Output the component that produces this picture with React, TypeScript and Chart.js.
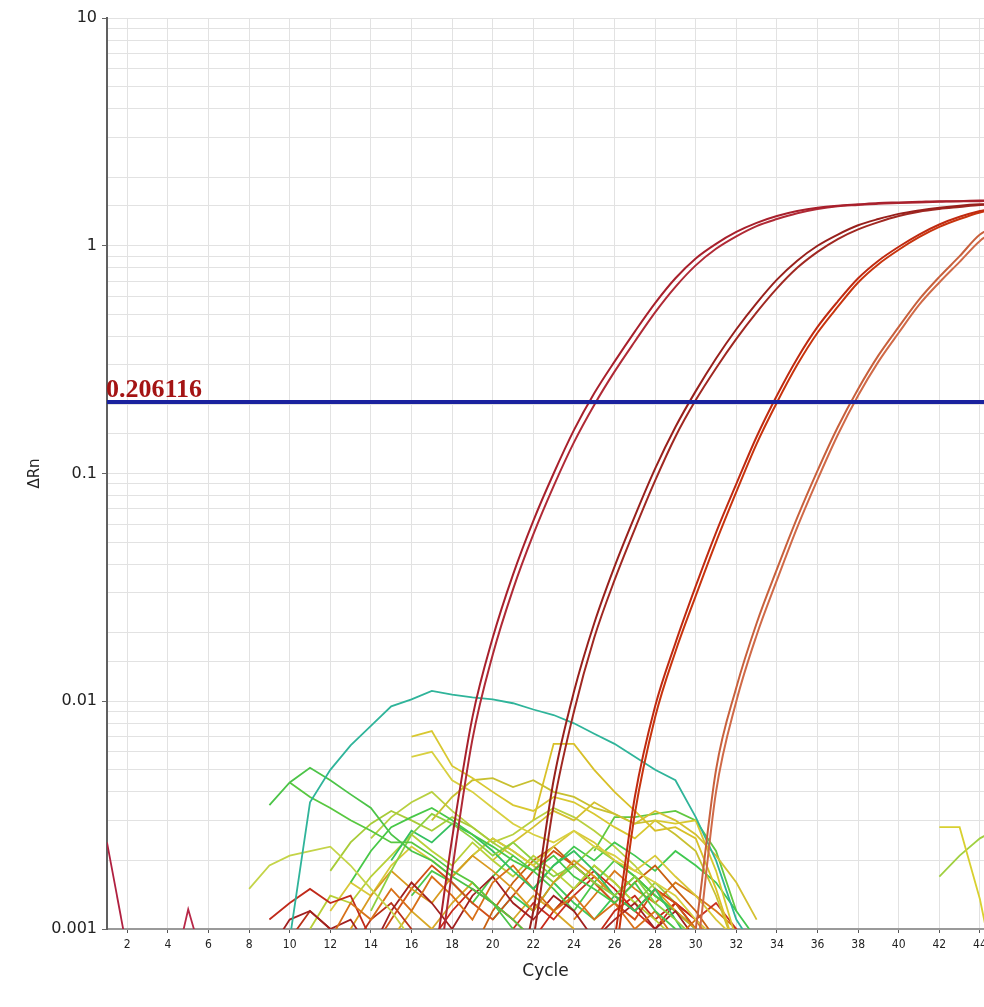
import React, { useEffect, useRef } from "react";
import { Chart, registerables } from "chart.js";

Chart.register(...registerables);

// ---------- axis ranges & labels ----------
const CYCLE_MIN = 1;
const CYCLE_MAX = 44.2;
const Y_MIN = 0.001;
const Y_MAX = 10;
const xTickValues = [2, 4, 6, 8, 10, 12, 14, 16, 18, 20, 22, 24, 26, 28, 30, 32, 34, 36, 38, 40, 42, 44];
const yTickLabels = ["0.001", "0.01", "0.1", "1", "10"];
const X_TITLE = "Cycle";
const Y_TITLE = "ΔRn";

// ---------- threshold ----------
const THRESHOLD = 0.206116;
const THRESHOLD_LABEL = "0.206116";

// ---------- amplification curves (value per cycle, from the start cycle) ----------
const ampStarts = [16, 16, 20, 20, 25, 25, 29, 29];
const amp1A = [0.0002, 0.0006, 0.0025, 0.0085, 0.019, 0.036, 0.062, 0.1, 0.155, 0.225, 0.31, 0.42, 0.56, 0.72, 0.88, 1.02, 1.15, 1.26, 1.35, 1.42, 1.47, 1.5, 1.52, 1.54, 1.55, 1.56, 1.57, 1.57, 1.58, 1.58];
const amp1B = [0.0001, 0.0004, 0.0018, 0.0068, 0.016, 0.031, 0.054, 0.088, 0.137, 0.2, 0.28, 0.38, 0.51, 0.66, 0.82, 0.97, 1.1, 1.22, 1.31, 1.39, 1.45, 1.49, 1.51, 1.53, 1.54, 1.55, 1.56, 1.57, 1.57, 1.58];
const amp2A = [0.0002, 0.0005, 0.0012, 0.0045, 0.011, 0.022, 0.039, 0.065, 0.105, 0.16, 0.23, 0.32, 0.43, 0.56, 0.71, 0.86, 1.0, 1.12, 1.23, 1.31, 1.38, 1.43, 1.47, 1.5, 1.52, 1.53];
const amp2B = [0.0001, 0.0003, 0.0009, 0.0035, 0.009, 0.019, 0.034, 0.057, 0.093, 0.145, 0.21, 0.29, 0.39, 0.51, 0.65, 0.8, 0.94, 1.07, 1.18, 1.27, 1.35, 1.41, 1.45, 1.48, 1.51, 1.52];
const amp3A = [0.0003, 0.0009, 0.0038, 0.0095, 0.018, 0.032, 0.055, 0.09, 0.145, 0.22, 0.32, 0.44, 0.57, 0.72, 0.86, 0.99, 1.12, 1.24, 1.34, 1.42, 1.48];
const amp3B = [0.0002, 0.0007, 0.0032, 0.0085, 0.0165, 0.029, 0.05, 0.083, 0.135, 0.205, 0.3, 0.415, 0.54, 0.69, 0.83, 0.96, 1.09, 1.21, 1.31, 1.4, 1.46];
const amp4A = [0.0003, 0.001, 0.005, 0.0115, 0.022, 0.038, 0.064, 0.103, 0.16, 0.235, 0.33, 0.44, 0.58, 0.73, 0.9, 1.12, 1.24];
const amp4B = [0.0002, 0.0007, 0.004, 0.01, 0.0195, 0.034, 0.058, 0.094, 0.148, 0.22, 0.31, 0.415, 0.55, 0.69, 0.85, 1.05, 1.2];
const ampSeries = [amp1A, amp1B, amp2A, amp2B, amp3A, amp3B, amp4A, amp4B];
const ampColors = ["#a8202c", "#b02a36", "#98201c", "#a02822", "#c02a10", "#c8340e", "#c8603c", "#d06a48"];

// ---------- background (negative) wells ----------
const noiseStarts = [10, 9, 10, 8, 16, 16, 22, 17, 13, 14, 15, 12, 9, 9, 13, 12, 14, 16, 11, 17, 19, 18, 20, 22, 21, 24, 12, 1, 4, 42, 42, 25, 14, 10, 20, 15, 25, 23];
const noiseValues: (number | null)[][] = [
  [0.0009, 0.0036, 0.005, 0.0064, 0.0078, 0.0095, 0.0102, 0.0111, 0.0107, 0.0104, 0.0102, 0.0098, 0.0092, 0.0087, 0.008, 0.0072, 0.0065, 0.0057, 0.005, 0.0045, 0.0031, 0.002, 0.0011, 0.0008],
  [0.0035, 0.0044, 0.0051, 0.0045, 0.0039, 0.0034, 0.0026, 0.0022, 0.002, 0.0017, 0.0015, 0.0013, 0.001, 0.0008],
  [0.0044, 0.0038, 0.0034, 0.003, 0.0027, 0.0024, 0.0024, 0.0021, 0.0018, 0.0016, 0.0013, 0.0011, 0.0009],
  [0.0015, 0.0019, 0.0021, 0.0022, 0.0023, 0.0019, 0.0015, 0.0012, 0.0009],
  [0.007, 0.0074, 0.0052, 0.0046, 0.004, 0.0035, 0.0033, 0.0038, 0.0036, 0.0032, 0.0028, 0.0025, 0.003, 0.0029, 0.003, 0.0018, 0.0009],
  [0.0057, 0.006, 0.0045, 0.004, 0.0034, 0.0029, 0.0026, 0.0024, 0.0027, 0.0023, 0.0021, 0.0018, 0.0016, 0.0014, 0.0011, 0.0009],
  [0.003, 0.0065, 0.0065, 0.005, 0.004, 0.0033, 0.0027, 0.0028, 0.0025, 0.0015, 0.0008],
  [0.003, 0.0038, 0.0045, 0.0046, 0.0042, 0.0045, 0.004, 0.0038, 0.0034, 0.0032, 0.0029, 0.003, 0.0026, 0.0022, 0.0014, 0.0008],
  [0.0016, 0.0022, 0.0028, 0.0031, 0.0034, 0.003, 0.0026, 0.0023, 0.002, 0.0018, 0.0021, 0.0017, 0.0015, 0.0013, 0.0016, 0.0012, 0.001, 0.0008],
  [0.0012, 0.0018, 0.0026, 0.0032, 0.0029, 0.0025, 0.0021, 0.0024, 0.002, 0.0017, 0.0019, 0.0016, 0.0014, 0.0017, 0.0013, 0.0011, 0.0009],
  [0.002, 0.0027, 0.0024, 0.0029, 0.0026, 0.0022, 0.0018, 0.0015, 0.0019, 0.0022, 0.0018, 0.0014, 0.0012, 0.0015, 0.0011, 0.0008],
  [0.0009, 0.0013, 0.0011, 0.0015, 0.0012, 0.0017, 0.0014, 0.0011, 0.0016, 0.0019, 0.0015, 0.0012, 0.0014, 0.0011, 0.0013, 0.001, 0.0012, 0.0009, 0.0011, 0.0008],
  [0.0011, 0.0013, 0.0015, 0.0013, 0.0014, 0.0009],
  [0.0008, 0.0011, 0.0012, 0.001, 0.0011, 0.0008, 0.0012, 0.0016, 0.0013, 0.001, 0.0014, 0.0017, 0.0013, 0.0011, 0.0014, 0.0012, 0.0009, 0.0011, 0.0013, 0.001, 0.0012, 0.0009, 0.0007],
  [0.001, 0.0014, 0.0018, 0.0015, 0.0013, 0.0017, 0.0021, 0.0018, 0.0015, 0.0012, 0.0016, 0.002, 0.0017, 0.0014, 0.0012, 0.0015, 0.0012, 0.001, 0.0008],
  [0.0012, 0.0016, 0.0014, 0.0019, 0.0023, 0.002, 0.0017, 0.0021, 0.0025, 0.0022, 0.0019, 0.0023, 0.0027, 0.0024, 0.002, 0.0018, 0.0021, 0.0017, 0.0014, 0.0011, 0.0009],
  [0.0008, 0.0011, 0.0015, 0.0019, 0.0016, 0.0013, 0.0011, 0.0014, 0.0018, 0.0022, 0.0019, 0.0016, 0.0013, 0.0011, 0.0015, 0.0013, 0.001, 0.0008],
  [0.0014, 0.0018, 0.0016, 0.0013, 0.0017, 0.0021, 0.0018, 0.0015, 0.0012, 0.0016, 0.002, 0.0017, 0.0014, 0.0012, 0.001, 0.0008],
  [0.001, 0.0014, 0.0013, 0.0017, 0.0021, 0.0026, 0.0022, 0.0019, 0.0024, 0.002, 0.0017, 0.0021, 0.0018, 0.0015, 0.0019, 0.0016, 0.0013, 0.0011, 0.0009],
  [0.0009, 0.0012, 0.0015, 0.0013, 0.0011, 0.0009, 0.0012, 0.0015, 0.0018, 0.0015, 0.0012, 0.001, 0.0013, 0.0011, 0.0009],
  [0.0008, 0.0012, 0.0016, 0.002, 0.0023, 0.0019, 0.0016, 0.0013, 0.0016, 0.0019, 0.0015, 0.0012, 0.0009],
  [0.0017, 0.0021, 0.0025, 0.0022, 0.0019, 0.0016, 0.0019, 0.0023, 0.002, 0.0017, 0.0014, 0.0012, 0.001, 0.0008],
  [0.002, 0.0024, 0.0028, 0.0033, 0.003, 0.0036, 0.0032, 0.0029, 0.0033, 0.003, 0.0026, 0.0021, 0.0016, 0.0011],
  [0.0015, 0.0019, 0.0023, 0.002, 0.0024, 0.0021, 0.0018, 0.0022, 0.0019, 0.0016, 0.0012, 0.0009],
  [0.001, 0.0013, 0.0011, 0.0014, 0.0017, 0.0014, 0.0012, 0.0015, 0.0013, 0.0011, 0.0013, 0.001, 0.0008],
  [0.0011, 0.0014, 0.0018, 0.0015, 0.0013, 0.0016, 0.0014, 0.0012, 0.001],
  [0.0018, 0.0024, 0.0029, 0.0033, 0.003, 0.0027, 0.0031, 0.0028, 0.0024, 0.0021],
  [0.0024, 0.0008],
  [0.0005, 0.00122, 0.0006],
  [0.0028, 0.0028, 0.00135, 0.0005],
  [0.0017, 0.0021, 0.0025, 0.0028],
  [0.0022, 0.0031, 0.0031, 0.0032, 0.0033, 0.003, 0.0022, 0.0012],
  [0.0025, 0.0031, 0.0036, 0.004, 0.0033, 0.0028, 0.0024, 0.0026, 0.003, 0.0034, 0.0031, 0.0027, 0.0023, 0.0019, 0.0015],
  [0.0009, 0.0012, 0.001, 0.0008, 0.0011, 0.0013, 0.001],
  [0.0011, 0.0014, 0.0012, 0.0016, 0.0013, 0.0011, 0.0014, 0.0017, 0.0014, 0.0012, 0.001, 0.0009],
  [0.0009, 0.0012, 0.001, 0.0013, 0.0016, 0.0013, 0.0011, 0.0014, 0.0012, 0.001, 0.0008],
  [0.0009, 0.0012, 0.0014, 0.0011, 0.0013, 0.001, 0.0008],
  [0.0012, 0.0015, 0.0019, 0.0016, 0.0013, 0.0016, 0.0013, 0.001, 0.0008],
];
const noiseColors = [
  "#2fb49a", "#4cc448", "#58c840", "#c4d448", "#d8c830", "#d8d040", "#d8c028", "#c8c030",
  "#48c848", "#8cd040", "#34c060", "#d87018", "#c02a1a", "#a02020", "#d89a20", "#d8c838",
  "#d05018", "#4cc84a", "#b8d038", "#c82818", "#c86010", "#8cd040", "#d4c030", "#40c850",
  "#c83020", "#d87a18", "#a8cc38", "#b02040", "#b82848", "#d8d030", "#a0d040", "#60c840",
  "#b8d040", "#b83018", "#3cc858", "#d8a828", "#c42a18", "#90d048",
];

function toPoints(start: number, values: (number | null)[]) {
  return values.map((v, i) => ({ x: start + i, y: v }));
}

function isDecade(v: number) {
  const lg = Math.log10(v);
  return Math.abs(lg - Math.round(lg)) < 1e-6;
}

const thresholdLabelPlugin = {
  id: "thresholdLabel",
  afterDatasetsDraw(chart: any) {
    const y = chart.scales.y.getPixelForValue(THRESHOLD);
    const ctx = chart.ctx;
    ctx.save();
    ctx.font = 'bold 26px "Liberation Serif", serif';
    ctx.fillStyle = "#a41414";
    ctx.textAlign = "left";
    ctx.textBaseline = "alphabetic";
    ctx.fillText(THRESHOLD_LABEL, chart.chartArea.left - 1, y - 5);
    ctx.restore();
  },
};

export default function App() {
  const canvasRef = useRef<HTMLCanvasElement | null>(null);

  useEffect(() => {
    if (!canvasRef.current) return;
    const datasets: any[] = [];
    datasets.push({
      data: [
        { x: CYCLE_MIN, y: THRESHOLD },
        { x: CYCLE_MAX, y: THRESHOLD },
      ],
      borderColor: "#1a229e",
      borderWidth: 4,
      pointRadius: 0,
      clip: 0,
    });
    ampSeries.forEach((vals, i) => {
      datasets.push({
        data: toPoints(ampStarts[i], vals),
        borderColor: ampColors[i],
        borderWidth: 2,
        pointRadius: 0,
        cubicInterpolationMode: "monotone",
        clip: 0,
      });
    });
    noiseValues.forEach((vals, i) => {
      datasets.push({
        data: toPoints(noiseStarts[i], vals),
        borderColor: noiseColors[i],
        borderWidth: 1.8,
        pointRadius: 0,
        tension: 0,
        clip: 0,
      });
    });

    const chart = new Chart(canvasRef.current, {
      type: "line",
      data: { datasets },
      plugins: [thresholdLabelPlugin],
      options: {
        animation: false,
        responsive: false,
        layout: { padding: { top: 18, right: 0, bottom: 0, left: 0 } },
        plugins: { legend: { display: false }, tooltip: { enabled: false } },
        scales: {
          x: {
            type: "linear",
            min: CYCLE_MIN,
            max: CYCLE_MAX,
            afterBuildTicks: (scale: any) => {
              scale.ticks = xTickValues.map((v) => ({ value: v }));
            },
            afterFit: (scale: any) => {
              scale.height = 78;
              scale.paddingLeft = 0;
              scale.paddingRight = 0;
            },
            grid: { color: "#e2e2e2", lineWidth: 1, tickLength: 4, tickColor: "#555" },
            border: { color: "#9a9a9a", width: 2 },
            ticks: {
              autoSkip: false,
              maxRotation: 0,
              padding: 5,
              color: "#222",
              font: { family: '"DejaVu Sans Condensed", "DejaVu Sans", sans-serif', size: 12 },
              callback: (v: any) => String(v),
            },
            title: {
              display: true,
              text: X_TITLE,
              color: "#222",
              font: { family: '"DejaVu Sans", sans-serif', size: 17 },
              padding: { top: 0, bottom: 25 },
            },
          },
          y: {
            type: "logarithmic",
            min: Y_MIN,
            max: Y_MAX,
            afterFit: (scale: any) => {
              scale.width = 107;
              scale.paddingTop = 0;
              scale.paddingBottom = 0;
            },
            grid: {
              color: "#e2e2e2",
              lineWidth: 1,
              tickLength: 5,
              tickColor: (ctx: any) => (ctx.tick && isDecade(ctx.tick.value) ? "#666" : "rgba(0,0,0,0)"),
            },
            border: { color: "#606060", width: 2 },
            ticks: {
              autoSkip: false,
              padding: 5,
              color: "#222",
              font: { family: '"DejaVu Sans", sans-serif', size: 16 },
              callback: (v: any) => {
                const n = Number(v);
                if (isDecade(n)) return yTickLabels[Math.round(Math.log10(n)) + 3];
                return "";
              },
            },
            title: {
              display: true,
              text: Y_TITLE,
              color: "#222",
              font: { family: '"DejaVu Sans", sans-serif', size: 15 },
              padding: { top: 26, bottom: 0 },
            },
          },
        },
      } as any,
    });
    return () => chart.destroy();
  }, []);

  return (
    <div style={{ position: "fixed", left: 0, top: 0, width: 984, height: 1007, background: "#fff" }}>
      <canvas ref={canvasRef} width={984} height={1007} style={{ display: "block" }} />
    </div>
  );
}
